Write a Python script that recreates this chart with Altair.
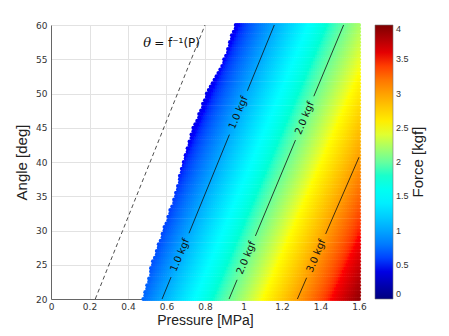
import altair as alt
import numpy as np
import pandas as pd

alt.data_transformers.disable_max_rows()

# ---- values ----
x_ticks = [0, 0.2, 0.4, 0.6, 0.8, 1.0, 1.2, 1.4, 1.6]
y_ticks = [20, 25, 30, 35, 40, 45, 50, 55, 60]
cbar_ticks = [0, 0.5, 1, 1.5, 2, 2.5, 3, 3.5, 4]

# left edge of the computed (coloured) region
edge_angle = [20, 25, 30, 35, 40, 45, 50, 55, 60]
edge_pressure = [0.478, 0.524, 0.583, 0.644, 0.685, 0.74, 0.81, 0.90, 0.956]

# iso-force contours (straight lines): start / end points
contour_levels = [1.0, 2.0, 3.0]
contour_p_start = [0.577, 0.925, 1.28]
contour_a_start = [20, 20, 20]
contour_p_end = [1.16, 1.52, 1.60]
contour_a_end = [60, 60, 40.7]
contour_label_angles = [[26.4, 47.2], [26.0, 46.4], [26.3]]
contour_label_text = ["1.0 kgf", "2.0 kgf", "3.0 kgf"]

# dashed line theta = f^-1(P)
inv_pressure = [0.23, 0.80]
inv_angle = [20, 60]
inv_label_theta = "θ"
inv_label_rest = "= f⁻¹(P)"
inv_label_p = [0.50, 0.655]
inv_label_a = [57.3, 57.4]

# ---- build tables ----
def contour_p(k, a):
    slope = (contour_p_end[k] - contour_p_start[k]) / (contour_a_end[k] - contour_a_start[k])
    return contour_p_start[k] + slope * (a - contour_a_start[k])

rows = []
for a in np.arange(20, 60.001, 0.5):
    p_edge = np.interp(a, edge_angle, edge_pressure)
    p1, p2, p3 = contour_p(0, a), contour_p(1, a), contour_p(2, a)
    for p in np.arange(0, 1.6001, 0.01):
        if p < p_edge - 1e-9:
            continue
        if p <= p2:
            f = 1 + (p - p1) / (p2 - p1)
        else:
            f = 2 + (p - p2) / (p3 - p2)
        rows.append({"P": round(p, 3), "A": round(a, 2), "F": round(f, 3)})
field = pd.DataFrame(rows)

gap = 3.2
seg_rows = []
lab_rows = []
for k in range(3):
    a0, a1 = contour_a_start[k], contour_a_end[k]
    cuts = [a0]
    for la in contour_label_angles[k]:
        cuts += [la - gap, la + gap]
        lab_rows.append({"P": contour_p(k, la), "A": la, "t": contour_label_text[k]})
    cuts.append(a1)
    for i in range(0, len(cuts), 2):
        for a in (cuts[i], cuts[i + 1]):
            seg_rows.append({"P": contour_p(k, a), "A": a, "seg": f"{k}-{i}"})
segs = pd.DataFrame(seg_rows)
labs = pd.DataFrame(lab_rows)
inv = pd.DataFrame({"P": inv_pressure, "A": inv_angle})
inv_t1 = pd.DataFrame({"P": [inv_label_p[0]], "A": [inv_label_a[0]], "t": [inv_label_theta]})
inv_t2 = pd.DataFrame({"P": [inv_label_p[1]], "A": [inv_label_a[1]], "t": [inv_label_rest]})

xs = alt.Scale(domain=[0, 1.6], nice=False, zero=False)
ys = alt.Scale(domain=[20, 60], nice=False, zero=False)

jet = alt.Scale(domain=[0, 0.5, 1.5, 2.5, 3.5, 4],
                range=["#00007F", "#0000FF", "#00FFFF", "#FFFF00", "#FF0000", "#7F0000"],
                clamp=True)

xaxis = alt.Axis(values=x_ticks, format=".1~f", title="Pressure [MPa]", ticks=False,
                 labelPadding=3, titlePadding=2, labelOverlap=False, labelFlush=False,
                 grid=True, titleFontSize=14)
yaxis = alt.Axis(values=y_ticks, format="d", title="Angle [deg]", ticks=False,
                 labelPadding=4, titlePadding=6, labelOverlap=False, labelFlush=False,
                 grid=True)

X = alt.X("P:Q", scale=xs, axis=xaxis)
Y = alt.Y("A:Q", scale=ys, axis=yaxis)

dots = alt.Chart(field).mark_circle(size=17, opacity=1).encode(
    x=X, y=Y,
    color=alt.Color("F:Q", scale=jet, legend=alt.Legend(
        title=None, values=cbar_ticks, format=".1~f",
        gradientLength=274, gradientThickness=18, direction="vertical",
        orient="right", offset=14,
        labelFontSize=9, labelColor="#333", labelOffset=3, labelOverlap=False,
        gradientStrokeColor="#777", gradientStrokeWidth=0.6)),
)

inv_line = alt.Chart(inv).mark_line(color="#222", strokeDash=[4, 3], strokeWidth=0.8).encode(
    x=X, y=Y)

inv_text1 = alt.Chart(inv_t1).mark_text(fontSize=13, color="#111", font="DejaVu Serif",
                                        fontStyle="italic").encode(x=X, y=Y, text="t:N")
inv_text2 = alt.Chart(inv_t2).mark_text(fontSize=12, color="#111", font="DejaVu Sans").encode(
    x=X, y=Y, text="t:N")

cont = alt.Chart(segs).mark_line(color="#111", strokeWidth=0.8).encode(
    x=X, y=Y, detail="seg:N")

cont_text = alt.Chart(labs).mark_text(fontSize=10, color="#111", angle=292.6,
                                      font="DejaVu Sans").encode(x=X, y=Y, text="t:N")

cbar_title = alt.Chart(pd.DataFrame({"t": ["Force [kgf]"]})).mark_text(
    fontSize=15, angle=270, color="#222", font="Liberation Sans", baseline="middle",
    align="center").encode(x=alt.value(367), y=alt.value(137), text="t:N")

chart = alt.layer(dots, inv_line, cont, cont_text, inv_text1, inv_text2, cbar_title).properties(
    width=308, height=274,
    autosize=alt.AutoSizeParams(type="none"),
    padding={"left": 43, "top": 17, "right": 82, "bottom": 29},
).configure_view(stroke=None).configure_axis(
    gridColor="#e2e2e2", domainColor="#666", labelColor="#333", labelFontSize=9,
    titleFont="Liberation Sans", titleFontWeight="normal", titleFontSize=15,
    titleColor="#222", labelFont="DejaVu Sans",
)

chart.save("out.html", embed_options={"renderer": "svg", "actions": False})
